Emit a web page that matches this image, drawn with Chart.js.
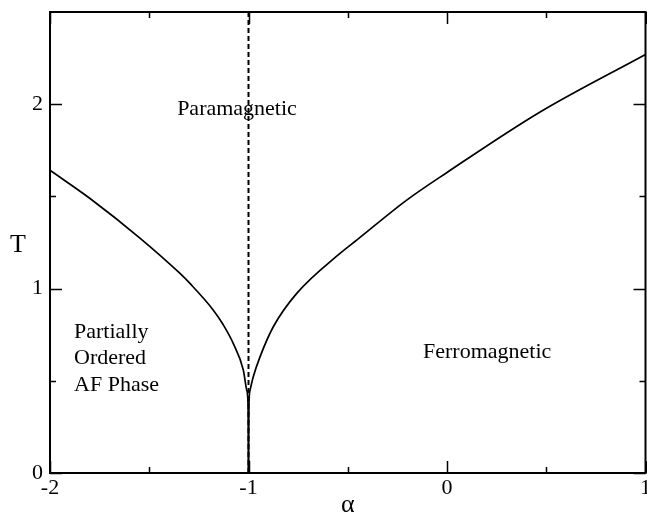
<!DOCTYPE html>
<html>
<head>
<meta charset="utf-8">
<title>Phase diagram</title>
<script src="https://cdn.jsdelivr.net/npm/chart.js@4/dist/chart.umd.min.js"></script>
<style>
  html, body { margin: 0; padding: 0; background: #fff; }
  canvas { display: block; }
</style>
</head>
<body>
<canvas id="phaseChart" width="647" height="516"></canvas>
<script>
// ---- critical temperature, AF side (alpha < -1) ----
const leftAlpha = [-2, -1.8, -1.547, -1.345, -1.295, -1.177, -1.128, -1.077, -1.026, -1.009, -1.002, -1];
const leftT     = [1.642, 1.49, 1.274, 1.082, 1.028, 0.883, 0.805, 0.703, 0.558, 0.45, 0.36, 0];

// ---- critical temperature, ferro side (alpha > -1) ----
const rightAlpha = [-1, -0.998, -0.992, -0.976, -0.942, -0.875, -0.757, -0.539, -0.455, -0.203, 0, 0.469, 1];
const rightT     = [0, 0.36, 0.45, 0.522, 0.63, 0.793, 0.974, 1.191, 1.263, 1.48, 1.63, 1.958, 2.27];

// ---- dashed boundary at alpha = -1 ----
const lineAlpha = [-1, -1];
const lineT     = [0, 2.5];

// ---- axis ticks ----
const xTicks = [-2, -1, 0, 1];
const xMinor = [-1.5, -0.5, 0.5];
const yTicks = [0, 1, 2];
const yMinor = [0.5, 1.5];

const toPoints = (xs, ys) => xs.map((v, i) => ({ x: v, y: ys[i] }));
const SERIF = "'Liberation Serif', 'Times New Roman', serif";

// box, inward ticks on all four sides, region names and the T label
const framePlugin = {
  id: "frame",
  afterDraw(chart) {
    const { ctx, chartArea: a, scales: { x, y } } = chart;
    ctx.save();
    ctx.strokeStyle = "#000";
    ctx.lineWidth = 1.5;
    ctx.beginPath();
    const xMarks = (vals, len) => vals.forEach((v) => {
      const px = Math.round(x.getPixelForValue(v)) + 0.5;
      ctx.moveTo(px, a.bottom); ctx.lineTo(px, a.bottom - len);
      ctx.moveTo(px, a.top);    ctx.lineTo(px, a.top + len);
    });
    const yMarks = (vals, len) => vals.forEach((v) => {
      const py = Math.round(y.getPixelForValue(v)) + 0.5;
      ctx.moveTo(a.left, py);  ctx.lineTo(a.left + len, py);
      ctx.moveTo(a.right, py); ctx.lineTo(a.right - len, py);
    });
    xMarks(xTicks, 12); xMarks(xMinor, 6);
    yMarks(yTicks, 12); yMarks(yMinor, 6);
    ctx.stroke();

    ctx.lineWidth = 2;
    ctx.strokeRect(a.left, a.top, a.right - a.left, a.bottom - a.top);

    // region names
    ctx.fillStyle = "#000";
    ctx.font = "22px " + SERIF;
    ctx.textBaseline = "alphabetic";
    ctx.textAlign = "center";
    ctx.fillText("Paramagnetic", x.getPixelForValue(-1.058), y.getPixelForValue(1.94));
    ctx.textAlign = "left";
    ctx.fillText("Ferromagnetic", x.getPixelForValue(-0.121), y.getPixelForValue(0.623));
    const afX = x.getPixelForValue(-1.879);
    ctx.fillText("Partially", afX, y.getPixelForValue(0.732));
    ctx.fillText("Ordered", afX, y.getPixelForValue(0.591));
    ctx.fillText("AF Phase", afX, y.getPixelForValue(0.444));

    // upright T beside the y axis
    ctx.font = "26px " + SERIF;
    ctx.textAlign = "center";
    ctx.fillText("T", 18, 252);
    ctx.restore();
  }
};

new Chart(document.getElementById("phaseChart"), {
  type: "scatter",
  data: {
    datasets: [
      {
        data: toPoints(leftAlpha, leftT),
        showLine: true,
        borderColor: "#000",
        borderWidth: 1.7,
        pointRadius: 0,
        cubicInterpolationMode: "monotone",
      },
      {
        data: toPoints(rightAlpha, rightT),
        showLine: true,
        borderColor: "#000",
        borderWidth: 1.7,
        pointRadius: 0,
        cubicInterpolationMode: "monotone",
      },
      {
        data: toPoints(lineAlpha, lineT),
        showLine: true,
        borderColor: "#000",
        borderWidth: 2,
        borderDash: [5, 3],
        pointRadius: 0,
      },
    ],
  },
  options: {
    responsive: false,
    animation: false,
    devicePixelRatio: 1,
    layout: { padding: { top: 12, right: 1.5, left: 0, bottom: 0 } },
    plugins: { legend: { display: false }, tooltip: { enabled: false } },
    scales: {
      x: {
        type: "linear",
        min: -2,
        max: 1,
        grid: { display: false, drawTicks: false },
        border: { display: false },
        ticks: { color: "#000", padding: 4, font: { family: SERIF, size: 22, lineHeight: 1 } },
        title: { display: true, text: "\u03b1", color: "#000", padding: 0, font: { family: SERIF, size: 26, lineHeight: 0.8 } },
        afterBuildTicks: (s) => { s.ticks = xTicks.map((v) => ({ value: v })); },
        afterFit: (s) => { s.height = 43; s.paddingLeft = 0; s.paddingRight = 0; },
      },
      y: {
        type: "linear",
        min: 0,
        max: 2.5,
        grid: { display: false, drawTicks: false },
        border: { display: false },
        ticks: { color: "#000", padding: 7, font: { family: SERIF, size: 22, lineHeight: 1 } },
        afterBuildTicks: (s) => { s.ticks = yTicks.map((v) => ({ value: v })); },
        afterFit: (s) => { s.width = 50; s.paddingTop = 0; s.paddingBottom = 0; },
      },
    },
  },
  plugins: [framePlugin],
});
</script>
</body>
</html>
